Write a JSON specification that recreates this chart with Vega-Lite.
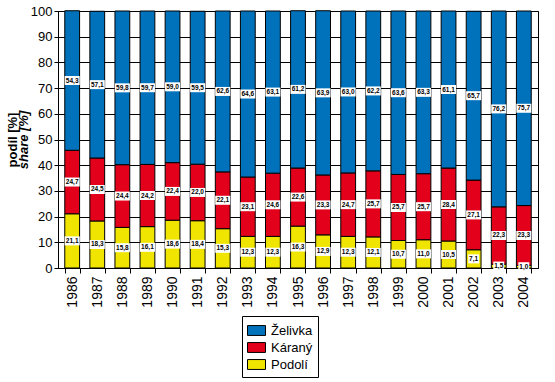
{
  "$schema": "https://vega.github.io/schema/vega-lite/v6.json",
  "width": 480,
  "height": 257,
  "padding": {"left": 6, "top": 5, "right": 5, "bottom": 5},
  "background": "white",
  "config": {
    "font": "Liberation Sans",
    "locale": {"number": {"decimal": ",", "thousands": ".", "grouping": [3], "currency": ["", ""]}},
    "view": {"stroke": "black", "strokeWidth": 1},
    "axis": {"domainColor": "black", "tickColor": "black", "labelColor": "black", "titleColor": "black"}
  },
  "data": {
    "values": [
      {"year": "1986", "series": "Podolí", "value": 21.1}, {"year": "1986", "series": "Káraný", "value": 24.7}, {"year": "1986", "series": "Želivka", "value": 54.3},
      {"year": "1987", "series": "Podolí", "value": 18.3}, {"year": "1987", "series": "Káraný", "value": 24.5}, {"year": "1987", "series": "Želivka", "value": 57.1},
      {"year": "1988", "series": "Podolí", "value": 15.8}, {"year": "1988", "series": "Káraný", "value": 24.4}, {"year": "1988", "series": "Želivka", "value": 59.8},
      {"year": "1989", "series": "Podolí", "value": 16.1}, {"year": "1989", "series": "Káraný", "value": 24.2}, {"year": "1989", "series": "Želivka", "value": 59.7},
      {"year": "1990", "series": "Podolí", "value": 18.6}, {"year": "1990", "series": "Káraný", "value": 22.4}, {"year": "1990", "series": "Želivka", "value": 59.0},
      {"year": "1991", "series": "Podolí", "value": 18.4}, {"year": "1991", "series": "Káraný", "value": 22.0}, {"year": "1991", "series": "Želivka", "value": 59.5},
      {"year": "1992", "series": "Podolí", "value": 15.3}, {"year": "1992", "series": "Káraný", "value": 22.1}, {"year": "1992", "series": "Želivka", "value": 62.6},
      {"year": "1993", "series": "Podolí", "value": 12.3}, {"year": "1993", "series": "Káraný", "value": 23.1}, {"year": "1993", "series": "Želivka", "value": 64.6},
      {"year": "1994", "series": "Podolí", "value": 12.3}, {"year": "1994", "series": "Káraný", "value": 24.6}, {"year": "1994", "series": "Želivka", "value": 63.1},
      {"year": "1995", "series": "Podolí", "value": 16.3}, {"year": "1995", "series": "Káraný", "value": 22.6}, {"year": "1995", "series": "Želivka", "value": 61.2},
      {"year": "1996", "series": "Podolí", "value": 12.9}, {"year": "1996", "series": "Káraný", "value": 23.3}, {"year": "1996", "series": "Želivka", "value": 63.9},
      {"year": "1997", "series": "Podolí", "value": 12.3}, {"year": "1997", "series": "Káraný", "value": 24.7}, {"year": "1997", "series": "Želivka", "value": 63.0},
      {"year": "1998", "series": "Podolí", "value": 12.1}, {"year": "1998", "series": "Káraný", "value": 25.7}, {"year": "1998", "series": "Želivka", "value": 62.2},
      {"year": "1999", "series": "Podolí", "value": 10.7}, {"year": "1999", "series": "Káraný", "value": 25.7}, {"year": "1999", "series": "Želivka", "value": 63.6},
      {"year": "2000", "series": "Podolí", "value": 11.0}, {"year": "2000", "series": "Káraný", "value": 25.7}, {"year": "2000", "series": "Želivka", "value": 63.3},
      {"year": "2001", "series": "Podolí", "value": 10.5}, {"year": "2001", "series": "Káraný", "value": 28.4}, {"year": "2001", "series": "Želivka", "value": 61.1},
      {"year": "2002", "series": "Podolí", "value": 7.1}, {"year": "2002", "series": "Káraný", "value": 27.1}, {"year": "2002", "series": "Želivka", "value": 65.7},
      {"year": "2003", "series": "Podolí", "value": 1.5}, {"year": "2003", "series": "Káraný", "value": 22.3}, {"year": "2003", "series": "Želivka", "value": 76.2},
      {"year": "2004", "series": "Podolí", "value": 1.0}, {"year": "2004", "series": "Káraný", "value": 23.3}, {"year": "2004", "series": "Želivka", "value": 75.7}
    ]
  },
  "transform": [
    {"calculate": "indexof(['Podolí','Káraný','Želivka'], datum.series)", "as": "ord"}
  ],
  "encoding": {
    "x": {
      "field": "year",
      "type": "ordinal",
      "scale": {"paddingInner": 0.41, "paddingOuter": 0.27},
      "axis": {"title": null, "labelAngle": -90, "labelFontSize": 14, "tickBand": "extent", "tickSize": 5, "labelPadding": 3}
    },
    "order": {"field": "ord", "type": "quantitative"},
    "detail": {"field": "series"}
  },
  "layer": [
    {
      "mark": {"type": "bar", "stroke": "black", "strokeWidth": 1},
      "encoding": {
        "y": {
          "field": "value",
          "type": "quantitative",
          "stack": "zero",
          "scale": {"domain": [0, 100], "nice": false},
          "axis": {
            "orient": "left",
            "values": [0, 10, 20, 30, 40, 50, 60, 70, 80, 90, 100],
            "grid": true, "gridColor": "black", "gridWidth": 1, "gridOpacity": 1,
            "tickSize": 4, "labelFontSize": 13, "labelPadding": 2,
            "title": "share [%]", "titleFontSize": 13, "titleFontWeight": "bold", "titleFontStyle": "italic",
            "titleX": -35, "titleY": 128.5, "titleAngle": -90, "titleAlign": "center", "titleBaseline": "middle"
          }
        },
        "color": {
          "field": "series",
          "type": "nominal",
          "scale": {"domain": ["Želivka", "Káraný", "Podolí"], "range": ["#0072bc", "#e2001a", "#f0e500"]},
          "legend": {
            "title": null, "orient": "none", "legendX": 184, "legendY": 305, "direction": "vertical",
            "strokeColor": "black", "fillColor": "white", "padding": 5,
            "symbolType": "M-1,-0.55H1V0.55H-1Z", "symbolSize": 324, "symbolStrokeColor": "black", "symbolStrokeWidth": 1,
            "symbolOpacity": 1,
            "labelFontSize": 13, "labelColor": "black", "labelOffset": 5, "rowPadding": -3
          }
        }
      }
    },
    {
      "mark": {"type": "point", "filled": true, "fill": "white", "opacity": 1, "strokeWidth": 0, "size": 225},
      "encoding": {
        "y": {
          "field": "value", "type": "quantitative", "stack": "zero", "bandPosition": 0.5,
          "axis": {
            "orient": "left", "labels": false, "ticks": false, "domain": false, "grid": false,
            "title": "podíl [%]", "titleFontSize": 13, "titleFontWeight": "bold",
            "titleX": -46, "titleY": 128.5, "titleAngle": -90, "titleAlign": "center", "titleBaseline": "middle"
          }
        },
        "shape": {
          "condition": {"test": "datum.value < 10", "value": "M-0.73,-0.6H0.73V0.6H-0.73Z"},
          "value": "M-1,-0.6H1V0.6H-1Z"
        }
      }
    },
    {
      "mark": {"type": "text", "fontSize": 6.5, "fontWeight": "bold", "color": "black"},
      "encoding": {
        "y": {"field": "value", "type": "quantitative", "stack": "zero", "bandPosition": 0.5, "axis": null},
        "text": {"field": "value", "type": "quantitative", "format": ".1f"}
      }
    }
  ],
  "resolve": {"axis": {"y": "independent"}}
}
